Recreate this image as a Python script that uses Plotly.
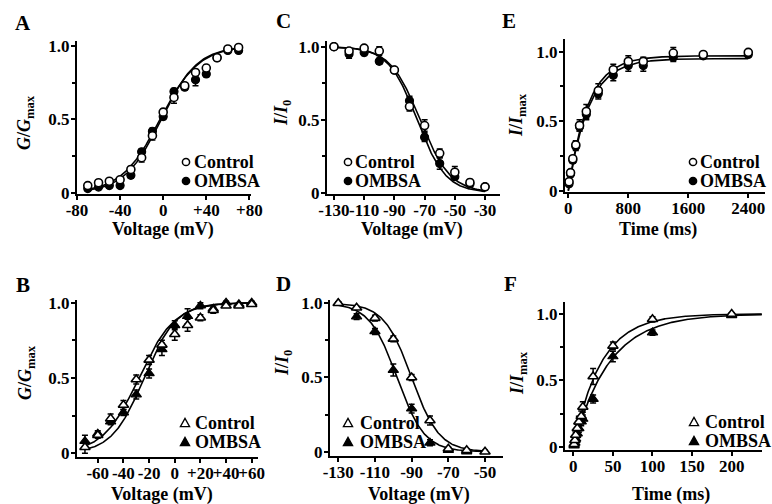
import numpy as np
import plotly.graph_objects as go

# ---------------- data ----------------
# Panel A: activation (circles)
a_v = [-70, -60, -50, -40, -30, -20, -10, 0, 10, 20, 30, 40, 50, 60, 70]
a_ctrl = [0.05, 0.07, 0.08, 0.09, 0.16, 0.24, 0.39, 0.55, 0.65, 0.73, 0.82, 0.85, 0.92, 0.98, 0.99]
a_ctrl_err = [0.01, 0.01, 0.01, 0.01, 0.02, 0.03, 0.03, 0.02, 0.04, 0.02, 0.02, 0.02, 0.01, 0.01, 0.01]
a_omb = [0.03, 0.04, 0.05, 0.05, 0.12, 0.28, 0.42, 0.52, 0.69, 0.72, 0.77, 0.81, 0.92, 0.97, 0.97]
a_omb_err = [0.01, 0.01, 0.01, 0.01, 0.02, 0.02, 0.02, 0.02, 0.02, 0.02, 0.04, 0.02, 0.01, 0.01, 0.01]
a_fit_ctrl = (-3.0, 18.0)   # V1/2, k
a_fit_omb = (-2.0, 17.0)

# Panel C: steady-state inactivation (circles)
c_v = [-130, -120, -110, -100, -90, -80, -70, -60, -50, -40, -30]
c_ctrl = [1.0, 0.97, 0.99, 0.97, 0.84, 0.59, 0.46, 0.27, 0.14, 0.07, 0.04]
c_ctrl_err = [0.01, 0.02, 0.01, 0.03, 0.01, 0.03, 0.04, 0.03, 0.04, 0.02, 0.02]
c_omb = [1.0, 0.95, 0.96, 0.90, 0.84, 0.63, 0.38, 0.20, 0.11, 0.06, 0.04]
c_omb_err = [0.01, 0.03, 0.02, 0.02, 0.01, 0.03, 0.03, 0.04, 0.02, 0.02, 0.01]
c_fit_ctrl = (-73.0, 10.0)
c_fit_omb = (-75.0, 9.5)

# Panel E: recovery (circles)
e_t = [10, 30, 60, 100, 150, 240, 400, 600, 800, 1000, 1400, 1800, 2400]
e_ctrl = [0.065, 0.13, 0.23, 0.33, 0.47, 0.57, 0.72, 0.87, 0.93, 0.93, 0.99, 0.98, 0.995]
e_ctrl_err = [0.02, 0.02, 0.02, 0.03, 0.04, 0.05, 0.05, 0.04, 0.04, 0.03, 0.04, 0.02, 0.01]
e_omb = [0.05, 0.12, 0.22, 0.32, 0.46, 0.55, 0.70, 0.83, 0.90, 0.90, 0.96, 0.97, 0.98]
e_omb_err = [0.02, 0.02, 0.02, 0.03, 0.03, 0.04, 0.04, 0.04, 0.04, 0.04, 0.03, 0.02, 0.01]
e_fit_ctrl = (0.97, 260.0)  # plateau, tau
e_fit_omb = (0.95, 270.0)

# Panel B: activation (triangles)
b_v = [-70, -60, -50, -40, -30, -20, -10, 0, 10, 20, 30, 40, 50, 60]
b_ctrl = [0.04, 0.12, 0.23, 0.32, 0.49, 0.62, 0.72, 0.79, 0.85, 0.90, 0.95, 0.98, 0.98, 0.99]
b_ctrl_err = [0.04, 0.02, 0.03, 0.03, 0.03, 0.03, 0.03, 0.04, 0.04, 0.02, 0.02, 0.01, 0.01, 0.01]
b_omb = [0.08, 0.13, 0.21, 0.27, 0.39, 0.53, 0.69, 0.85, 0.91, 0.98, 0.96, 1.0, 0.99, 1.0]
b_omb_err = [0.04, 0.02, 0.02, 0.02, 0.03, 0.03, 0.04, 0.03, 0.05, 0.02, 0.01, 0.01, 0.01, 0.01]
b_fit_ctrl = (-28.0, 14.0)
b_fit_omb = (-24.0, 12.5)

# Panel D: steady-state inactivation (triangles)
d_v_ctrl = [-130, -120, -110, -100, -90, -80, -70, -60, -50]
d_ctrl = [1.0, 0.97, 0.90, 0.76, 0.50, 0.21, 0.02, 0.01, 0.0]
d_ctrl_err = [0.01, 0.01, 0.02, 0.02, 0.02, 0.03, 0.01, 0.01, 0.01]
d_v_omb = [-130, -120, -110, -100, -90, -80, -70, -60]
d_omb = [1.0, 0.91, 0.81, 0.55, 0.29, 0.06, 0.01, 0.0]
d_omb_err = [0.01, 0.02, 0.02, 0.04, 0.03, 0.02, 0.01, 0.01]
d_fit_ctrl = (-90.0, 7.5)
d_fit_omb = (-98.0, 7.5)

# Panel F: recovery (triangles)
f_t = [1, 2, 3, 5, 7, 10, 12, 25, 50, 100, 200]
f_ctrl = [0.02, 0.05, 0.09, 0.14, 0.19, 0.23, 0.30, 0.53, 0.76, 0.96, 1.0]
f_ctrl_err = [0.01, 0.02, 0.02, 0.03, 0.04, 0.04, 0.04, 0.06, 0.03, 0.02, 0.01]
f_omb = [0.01, 0.03, 0.06, 0.10, 0.14, 0.19, 0.21, 0.36, 0.68, 0.86, 0.99]
f_omb_err = [0.01, 0.02, 0.02, 0.03, 0.03, 0.03, 0.03, 0.03, 0.04, 0.02, 0.01]
f_fit_ctrl = (1.0, 35.0)
f_fit_omb = (1.0, 45.0)

y_ticks = [0, 0.5, 1.0]
y_ticktext = ["0", "0.5", "1.0"]
series_names = ["Control", "OMBSA"]

# ---------------- helpers ----------------
W, H = 772, 504
SERIF = "Liberation Serif"


def fx(p):
    return p / W


def fy(p):
    return 1 - p / H


def boltz_act(v, p):
    v = np.asarray(v, float)
    return 1 / (1 + np.exp((p[0] - v) / p[1]))


def boltz_inact(v, p):
    v = np.asarray(v, float)
    return 1 / (1 + np.exp((v - p[0]) / p[1]))


def recov(t, p):
    t = np.asarray(t, float)
    return p[0] * (1 - np.exp(-t / p[1]))


fig = go.Figure()


def add_panel(n, xs_c, yc, ec, xs_o, yo, eo, fitfun, pc, po, xfit, sym):
    xa = "x" if n == 1 else "x%d" % n
    ya = "y" if n == 1 else "y%d" % n
    for p in (pc, po):
        fig.add_trace(go.Scatter(x=xfit, y=fitfun(xfit, p), mode="lines",
                                 line=dict(color="black", width=1.6),
                                 xaxis=xa, yaxis=ya, showlegend=False,
                                 hoverinfo="skip"))
    msize = 8 if sym == "circle" else 9
    fig.add_trace(go.Scatter(x=xs_o, y=yo, mode="markers", name=series_names[1],
                             marker=dict(symbol=sym, size=msize,
                                         color="black", line=dict(color="black", width=1.2)),
                             error_y=dict(type="data", array=eo, color="black",
                                          thickness=1.5, width=3),
                             xaxis=xa, yaxis=ya, showlegend=False, cliponaxis=False))
    fig.add_trace(go.Scatter(x=xs_c, y=yc, mode="markers", name=series_names[0],
                             marker=dict(symbol=sym, size=msize,
                                         color="white", line=dict(color="black", width=1.6)),
                             error_y=dict(type="data", array=ec, color="black",
                                          thickness=1.5, width=3),
                             xaxis=xa, yaxis=ya, showlegend=False, cliponaxis=False))


add_panel(1, a_v, a_ctrl, a_ctrl_err, a_v, a_omb, a_omb_err, boltz_act,
          a_fit_ctrl, a_fit_omb, np.linspace(min(a_v), max(a_v), 200), "circle")
add_panel(2, c_v, c_ctrl, c_ctrl_err, c_v, c_omb, c_omb_err, boltz_inact,
          c_fit_ctrl, c_fit_omb, np.linspace(min(c_v), max(c_v), 200), "circle")
add_panel(3, e_t, e_ctrl, e_ctrl_err, e_t, e_omb, e_omb_err, recov,
          e_fit_ctrl, e_fit_omb, np.linspace(0, max(e_t), 300), "circle")
add_panel(4, b_v, b_ctrl, b_ctrl_err, b_v, b_omb, b_omb_err, boltz_act,
          b_fit_ctrl, b_fit_omb, np.linspace(min(b_v), max(b_v), 200), "triangle-up")
add_panel(5, d_v_ctrl, d_ctrl, d_ctrl_err, d_v_omb, d_omb, d_omb_err, boltz_inact,
          d_fit_ctrl, d_fit_omb, np.linspace(-130, -50, 200), "triangle-up")
add_panel(6, f_t, f_ctrl, f_ctrl_err, f_t, f_omb, f_omb_err, recov,
          f_fit_ctrl, f_fit_omb, np.linspace(0, 238, 300), "triangle-up")

tickfont = dict(family=SERIF, size=17, color="black", weight="bold")


def axis_common():
    return dict(showline=True, linecolor="black", linewidth=2, ticks="outside",
                ticklen=4, tickwidth=2, tickcolor="black", showgrid=False,
                zeroline=False, tickfont=tickfont, tickangle=0, mirror=False,
                automargin=False)


# panel geometry in pixels: x0, x1, ytop, ybottom, xrange, yrange, xticks
panels = {
    1: dict(x=(77, 251), y=(41, 194), xr=[-80, 81.5], yr=[-0.007, 1.034],
            xt=[-80, -40, 0, 40, 80], xtt=["-80", "-40", "0", "+40", "+80"]),
    2: dict(x=(327, 500), y=(41, 194), xr=[-134.6, -20.1], yr=[-0.009, 1.039],
            xt=[-130, -110, -90, -70, -50, -30], xtt=["-130", "-110", "-90", "-70", "-50", "-30"]),
    3: dict(x=(565, 765), y=(39, 192), xr=[-44, 2623], yr=[-0.009, 1.091],
            xt=[0, 800, 1600, 2400], xtt=["0", "800", "1600", "2400"]),
    4: dict(x=(77, 258), y=(300, 457), xr=[-76.2, 64.9], yr=[-0.025, 1.018],
            xt=[-60, -40, -20, 0, 20, 40, 60], xtt=["-60", "-40", "-20", "0", "+20", "+40", "+60"]),
    5: dict(x=(330, 503), y=(300, 456), xr=[-134.5, -40.2], yr=[-0.029, 1.022],
            xt=[-130, -110, -90, -70, -50], xtt=["-130", "-110", "-90", "-70", "-50"]),
    6: dict(x=(565, 762), y=(302, 450), xr=[-10.5, 238.3], yr=[-0.023, 1.09],
            xt=[0, 50, 100, 150, 200], xtt=["0", "50", "100", "150", "200"]),
}

layout_axes = {}
for n, p in panels.items():
    xk = "xaxis" if n == 1 else "xaxis%d" % n
    yk = "yaxis" if n == 1 else "yaxis%d" % n
    ax = axis_common()
    ax.update(domain=[fx(p["x"][0]), fx(p["x"][1])], range=p["xr"],
              anchor="y" if n == 1 else "y%d" % n, ticklabelstandoff=-4,
              tickmode="array", tickvals=p["xt"], ticktext=p["xtt"])
    ay = axis_common()
    ay.update(domain=[fy(p["y"][1]), fy(p["y"][0])], range=p["yr"],
              anchor="x" if n == 1 else "x%d" % n, ticklabelstandoff=-2,
              tickmode="array", tickvals=y_ticks, ticktext=y_ticktext,
              minor=dict(ticks="outside", tickvals=[0.25, 0.75], ticklen=3,
                         tickwidth=1.5, tickcolor="black"))
    layout_axes[xk] = ax
    layout_axes[yk] = ay

ann = []
shapes = []
title_font = dict(family=SERIF, size=18, color="black", weight="bold")


def text_at(x, y, s, font, angle=0, xanchor="center"):
    ann.append(dict(x=fx(x), y=fy(y), xref="paper", yref="paper", text=s,
                    showarrow=False, font=font, textangle=angle,
                    xanchor=xanchor, yanchor="middle"))


# panel letters
letter_font = dict(family=SERIF, size=21, color="black", weight="bold")
for s, x, y in [("A", 23, 23), ("C", 283, 21), ("E", 509, 21),
                ("B", 23, 285), ("D", 283, 284), ("F", 510, 284)]:
    text_at(x, y, s, letter_font)

# x titles
for s, x, y in [("Voltage (mV)", 163, 230), ("Voltage (mV)", 412, 230), ("Time (ms)", 658, 230),
                ("Voltage (mV)", 162, 494), ("Voltage (mV)", 419, 494), ("Time (ms)", 671, 494)]:
    text_at(x, y, s, title_font)

# y titles
gg = "<i>G</i>/<i>G</i><sub>max</sub>"
ii0 = "<i>I</i>/<i>I</i><sub>0</sub>"
iim = "<i>I</i>/<i>I</i><sub>max</sub>"
for s, x, y in [(gg, 25, 122), (ii0, 283, 113), (iim, 518, 115),
                (gg, 26, 373), (ii0, 283, 363), (iim, 518, 373)]:
    text_at(x, y, s, title_font, angle=-90)


def circle_icon(cx, cy, filled):
    r = 3.6
    shapes.append(dict(type="circle", xref="paper", yref="paper",
                       x0=fx(cx - r), x1=fx(cx + r), y0=fy(cy + r), y1=fy(cy - r),
                       line=dict(color="black", width=1.5),
                       fillcolor="black" if filled else "white"))


def tri_icon(cx, cy, filled):
    pts = [(cx, cy - 4.6), (cx - 4.6, cy + 3.6), (cx + 4.6, cy + 3.6)]
    path = "M " + " L ".join("%.5f,%.5f" % (fx(a), fy(b)) for a, b in pts) + " Z"
    shapes.append(dict(type="path", xref="paper", yref="paper", path=path,
                       line=dict(color="black", width=1.3),
                       fillcolor="black" if filled else "white"))


# legends (symbol + label)
leg_font = dict(family=SERIF, size=18, color="black", weight="bold")
legends = [
    (186, 192, 162, 181, circle_icon),
    (348, 353, 162, 181, circle_icon),
    (693, 698, 162, 181, circle_icon),
    (185, 193, 423, 442, tri_icon),
    (348, 358, 423, 442, tri_icon),
    (694, 703, 422, 441, tri_icon),
]
for sx, tx, y1, y2, icon in legends:
    icon(sx, y1, False)
    icon(sx, y2, True)
    text_at(tx, y1, series_names[0], leg_font, xanchor="left")
    text_at(tx, y2, series_names[1], leg_font, xanchor="left")

fig.update_layout(template="none", width=W, height=H,
                  margin=dict(l=0, r=0, t=0, b=0, pad=0, autoexpand=False),
                  paper_bgcolor="white", plot_bgcolor="white",
                  showlegend=False, annotations=ann, shapes=shapes, **layout_axes)

fig.write_html("out.html", config={"displayModeBar": False},
               post_script="document.body.style.margin='0px';document.body.style.overflow='hidden';")
